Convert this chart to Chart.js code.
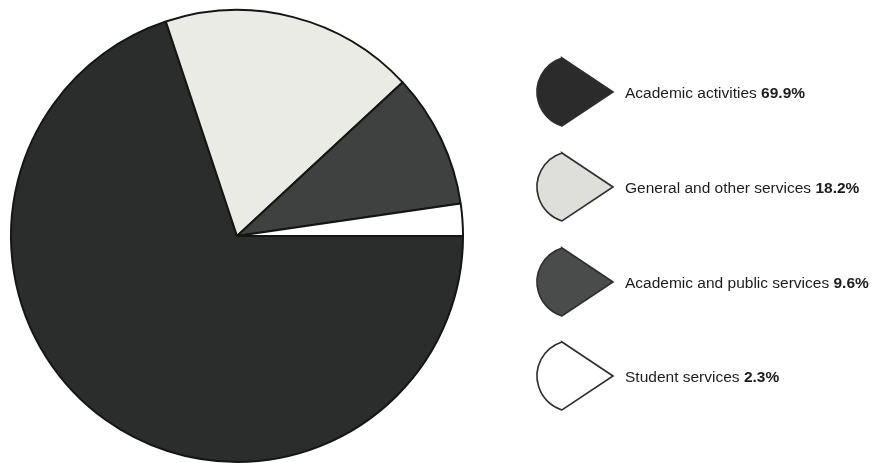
<!DOCTYPE html>
<html>
<head>
<meta charset="utf-8">
<script src="https://cdn.jsdelivr.net/npm/chart.js@4.4.1/dist/chart.umd.min.js"></script>
<style>
  html, body { margin: 0; padding: 0; background: #ffffff; }
  #wrap { width: 887px; height: 463px; position: relative; }
</style>
</head>
<body>
<div id="wrap"><canvas id="c" width="887" height="463"></canvas></div>
<script>
const categories = ["Academic activities", "General and other services", "Academic and public services", "Student services"];
const shares = [69.9, 18.2, 9.6, 2.3];

const sliceFill = ["#2b2d2c", "#ebebe6", "#3e413f", "#ffffff"];
const iconFill = ["#2b2b2b", "#dededb", "#4a4c4b", "#ffffff"];

const legendPlugin = {
  id: 'wedgeLegend',
  afterDraw(chart) {
    const ctx = chart.ctx;
    const centers = [92, 187, 282, 376];
    const apexX = 613, cornerX = 562, halfH = 34;
    const arcCx = 572.6, arcR = 35.6;
    const a0 = Math.atan2(-halfH, cornerX - arcCx);
    const a1 = Math.atan2(halfH, cornerX - arcCx);
    categories.forEach((name, i) => {
      const cy = centers[i];
      ctx.save();
      ctx.beginPath();
      ctx.moveTo(apexX, cy);
      ctx.lineTo(cornerX, cy - halfH);
      ctx.arc(arcCx, cy, arcR, a0, a1, true);
      ctx.closePath();
      ctx.fillStyle = iconFill[i];
      ctx.fill();
      ctx.lineWidth = 1.6;
      ctx.strokeStyle = '#2e2e2e';
      ctx.stroke();
      ctx.restore();

      ctx.save();
      ctx.fillStyle = '#1c1c1c';
      ctx.textBaseline = 'alphabetic';
      ctx.textAlign = 'left';
      const base = cy + 6;
      ctx.font = '15.5px "Liberation Sans", Arial, sans-serif';
      const txt = name + ' ';
      ctx.fillText(txt, 625, base);
      const w = ctx.measureText(txt).width;
      ctx.font = 'bold 15.5px "Liberation Sans", Arial, sans-serif';
      ctx.fillText(shares[i].toFixed(1) + '%', 625 + w, base);
      ctx.restore();
    });
  }
};

new Chart(document.getElementById('c'), {
  type: 'pie',
  data: {
    labels: categories,
    datasets: [{
      data: shares,
      backgroundColor: sliceFill,
      borderColor: '#151515',
      borderWidth: 2
    }]
  },
  options: {
    responsive: false,
    animation: false,
    rotation: 90,
    radius: 226,
    layout: { padding: { left: 0, top: 9, bottom: 0, right: 413 } },
    plugins: {
      legend: { display: false },
      tooltip: { enabled: false }
    }
  },
  plugins: [legendPlugin]
});
</script>
</body>
</html>
